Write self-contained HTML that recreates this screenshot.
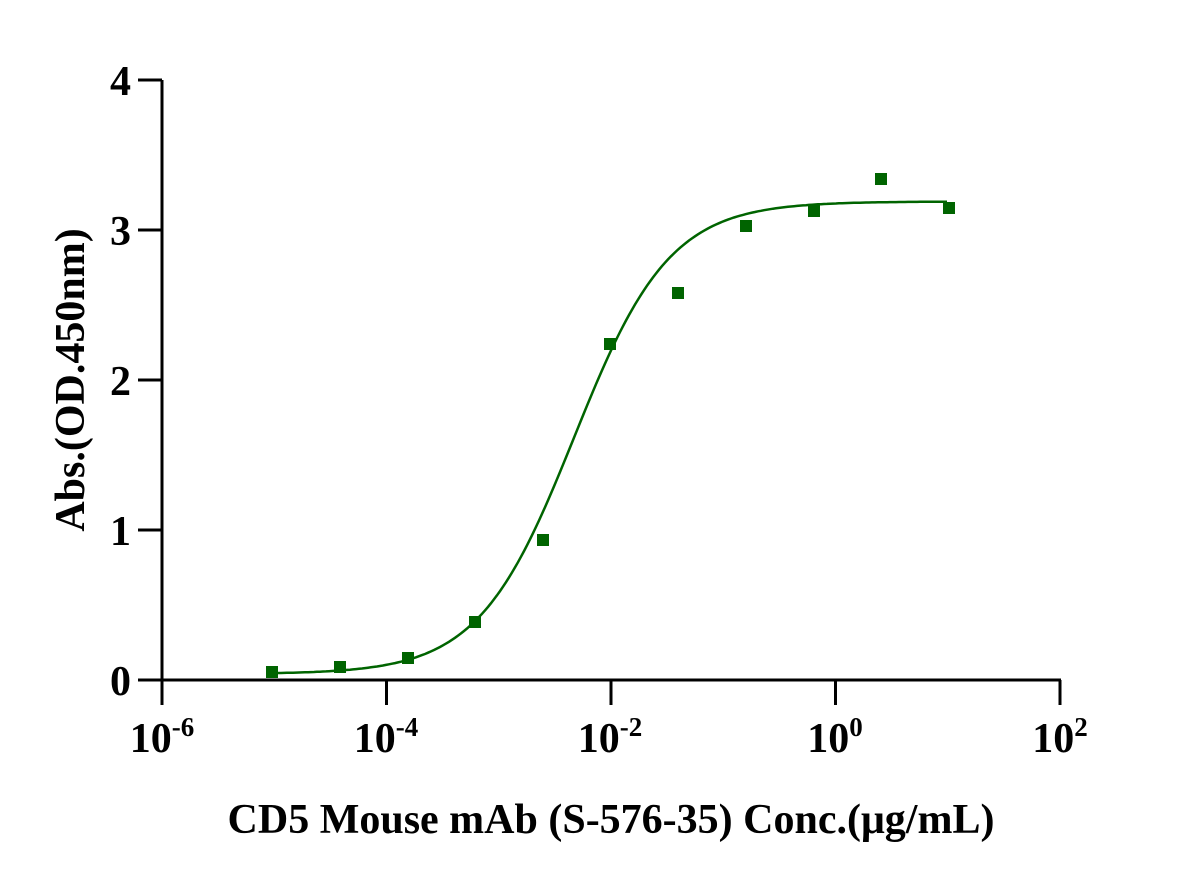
<!DOCTYPE html>
<html><head><meta charset="utf-8"><style>
html,body{margin:0;padding:0;background:#fff;}
svg{display:block;font-family:"Liberation Serif",serif;font-weight:bold;}
</style></head><body>
<svg id="s" width="1187" height="883" viewBox="0 0 1187 883">
<g stroke="#000" stroke-width="3" fill="none">
<line x1="162" y1="80" x2="162" y2="682"/>
<line x1="138" y1="680" x2="1061" y2="680"/>
<line x1="138" y1="80" x2="162" y2="80"/>
<line x1="138" y1="230" x2="162" y2="230"/>
<line x1="138" y1="380" x2="162" y2="380"/>
<line x1="138" y1="530" x2="162" y2="530"/>
<line x1="162" y1="680" x2="162" y2="705"/>
<line x1="386.5" y1="680" x2="386.5" y2="705"/>
<line x1="611" y1="680" x2="611" y2="705"/>
<line x1="835.5" y1="680" x2="835.5" y2="705"/>
<line x1="1060" y1="680" x2="1060" y2="705"/>
</g>
<g font-size="42" text-anchor="end">
<text x="131" y="95">4</text>
<text x="131" y="245">3</text>
<text x="131" y="395">2</text>
<text x="131" y="545">1</text>
<text x="131" y="695">0</text>
</g>
<g font-size="42" text-anchor="middle">
<text x="162" y="752">10<tspan font-size="27" dy="-16">-6</tspan></text>
<text x="386" y="752">10<tspan font-size="27" dy="-16">-4</tspan></text>
<text x="610" y="752">10<tspan font-size="27" dy="-16">-2</tspan></text>
<text x="835" y="752">10<tspan font-size="27" dy="-16">0</tspan></text>
<text x="1060" y="752">10<tspan font-size="27" dy="-16">2</tspan></text>
</g>
<text x="611" y="833" font-size="42" text-anchor="middle">CD5 Mouse mAb (S-576-35) Conc.(μg/mL)</text>
<text transform="translate(84,380) rotate(-90)" font-size="42" text-anchor="middle">Abs.(OD.450nm)</text>
<path id="c" fill="none" stroke="#006400" stroke-width="2.5"/>
<g fill="#006400">
<rect x="266" y="666" width="12" height="12"/>
<rect x="334" y="661" width="12" height="12"/>
<rect x="402" y="652" width="12" height="12"/>
<rect x="469" y="616" width="12" height="12"/>
<rect x="537" y="534" width="12" height="12"/>
<rect x="604" y="338" width="12" height="12"/>
<rect x="672" y="287" width="12" height="12"/>
<rect x="740" y="220" width="12" height="12"/>
<rect x="808" y="205" width="12" height="12"/>
<rect x="875" y="173" width="12" height="12"/>
<rect x="943" y="202" width="12" height="12"/>
</g>
<script>
var b=0.04,t=3.19,e=-2.33,h=1.02,d="";
for(var px=272;px<=949;px+=3){var l=-6+(px-162)/112.25;var v=b+(t-b)/(1+Math.pow(10,(e-l)*h));d+=(d?"L":"M")+px+","+(680-150*v).toFixed(1);}
document.getElementById("c").setAttribute("d",d);
</script>
</svg>
</body></html>
